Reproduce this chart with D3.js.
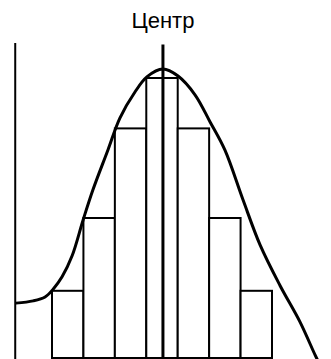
<!DOCTYPE html>
<html>
<head>
<meta charset="utf-8">
<script src="https://cdn.jsdelivr.net/npm/d3@7"></script>
<style>
    body { margin: 0; background: #fff; }
    #chart { width: 331px; height: 359px; }
</style>
</head>
<body>
<div id="chart"></div>
<script>

// histogram bins (centre of bin, height)
let binCenters = [-3, -2, -1, 0, 1, 2, 3];
let binHeights = [24, 50, 82, 100, 82, 50, 24];

// hand drawn density curve
let curveX = [-4.65, -4.10, -3.72, -3.47, -3.18, -2.86, -2.51, -2.20, -1.72, -1.34, -0.86, -0.48, 0.03,
    0.51, 1.05, 1.53, 2.00, 2.58, 3.12, 3.75, 4.39, 4.87, 4.98];
let curveY = [19.6, 20.4, 21.8, 24.5, 29, 36.5, 49.3, 60, 74.3, 85.7, 95, 100.4, 103.2,
    100.7, 94, 84.3, 74.3, 56.4, 40.4, 26, 12.9, 1.1, -1.4];

let title = "Центр";

class HistVis {

    constructor(parentElement) {
        this.parentElement = parentElement;
        this.initVis();
    }

    initVis() {
        let vis = this;

        vis.width = 331;
        vis.height = 359;

        vis.svg = d3.select("#" + vis.parentElement).append("svg")
            .attr("width", vis.width)
            .attr("height", vis.height);

        // scales
        vis.x = d3.scaleLinear()
            .domain([-3.5, 3.5])
            .range([52, 272]);

        vis.y = d3.scaleLinear()
            .domain([0, 100])
            .range([358, 78]);

        let binW = vis.x(1) - vis.x(0);

        // bars
        vis.svg.selectAll(".bar")
            .data(binCenters)
            .enter().append("rect")
            .attr("class", "bar")
            .attr("x", d => vis.x(d - 0.5))
            .attr("width", binW)
            .attr("y", (d, i) => vis.y(binHeights[i]))
            .attr("height", (d, i) => vis.y(0) - vis.y(binHeights[i]))
            .attr("fill", "white")
            .attr("stroke", "black")
            .attr("stroke-width", 2);

        // left axis line
        vis.svg.append("line")
            .attr("x1", vis.x(-4.67)).attr("x2", vis.x(-4.67))
            .attr("y1", vis.y(112.5)).attr("y2", vis.height)
            .attr("stroke", "black")
            .attr("stroke-width", 2);

        // curve
        let pts = curveX.map((d, i) => [d, curveY[i]]);
        let line = d3.line()
            .x(d => vis.x(d[0]))
            .y(d => vis.y(d[1]))
            .curve(d3.curveCatmullRom);

        vis.svg.append("path")
            .datum(pts)
            .attr("d", line)
            .attr("fill", "none")
            .attr("stroke", "black")
            .attr("stroke-width", 3);

        // centre line
        vis.svg.append("line")
            .attr("x1", vis.x(0.03)).attr("x2", vis.x(0.03))
            .attr("y1", vis.y(112)).attr("y2", vis.y(0))
            .attr("stroke", "black")
            .attr("stroke-width", 3);

        // title
        vis.svg.append("text")
            .attr("x", vis.x(0.03))
            .attr("y", 28)
            .attr("text-anchor", "middle")
            .attr("font-family", "Liberation Sans, Arial, sans-serif")
            .attr("font-size", 22)
            .text(title);
    }
}

new HistVis("chart");
</script>
</body>
</html>
